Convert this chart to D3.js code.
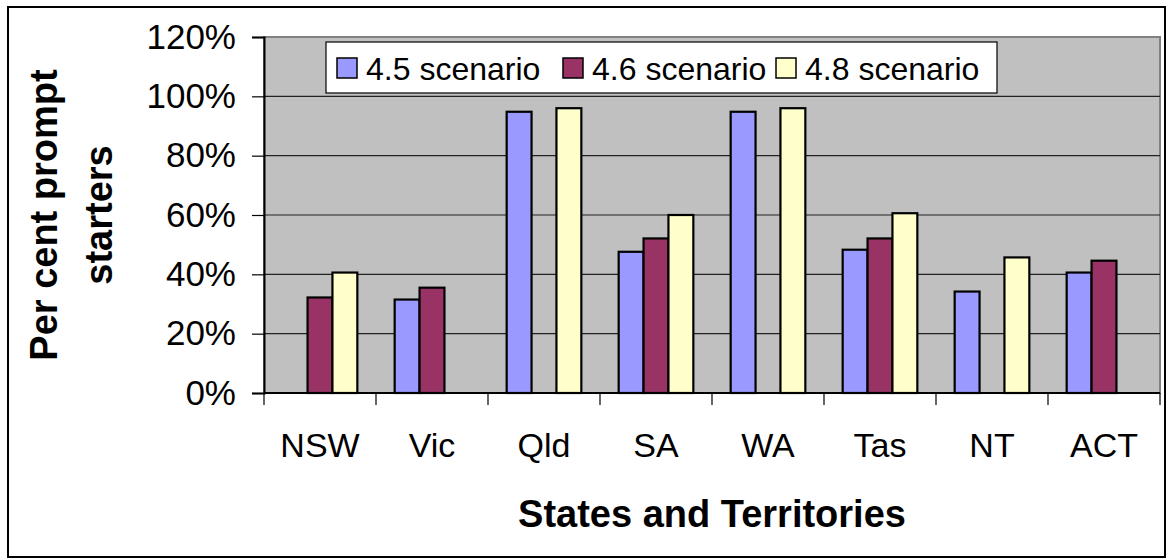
<!DOCTYPE html>
<html>
<head>
<meta charset="utf-8">
<script src="https://cdn.jsdelivr.net/npm/d3@7"></script>
<style>
  html, body { margin: 0; padding: 0; background: #fff; }
  svg { display: block; font-family: Arial, "Liberation Sans", sans-serif; }
</style>
</head>
<body>
<div id="chart"></div>
<script>
const categories = ['NSW', 'Vic', 'Qld', 'SA', 'WA', 'Tas', 'NT', 'ACT'];
const seriesNames = ['4.5 scenario', '4.6 scenario', '4.8 scenario'];
const seriesColors = ['#9999ff', '#993366', '#ffffcc'];
// null = no bar drawn for that state
const scenario45 = [null, 0.315, 0.948, 0.476, 0.948, 0.483, 0.342, 0.406];
const scenario46 = [0.322, 0.355, null, 0.521, null, 0.521, null, 0.446];
const scenario48 = [0.406, null, 0.960, 0.600, 0.960, 0.606, 0.457, null];
const yTicks = [0, 0.2, 0.4, 0.6, 0.8, 1.0, 1.2];

const WIDTH = 1171;
const HEIGHT = 559;
const plot = { left: 264, right: 1160, top: 37, bottom: 393 };

const svg = d3.select('#chart')
  .append('svg')
  .attr('width', WIDTH)
  .attr('height', HEIGHT);

// outer chart frame
svg.append('rect')
  .attr('x', 8).attr('y', 7)
  .attr('width', 1157).attr('height', 550)
  .attr('fill', '#fff')
  .attr('stroke', '#000')
  .attr('stroke-width', 2);

const x = d3.scaleBand().domain(categories).range([plot.left, plot.right]).padding(0);
const xInner = d3.scaleBand().domain(seriesNames).range([0, x.bandwidth()])
  .paddingInner(0).paddingOuter(0.75);
const y = d3.scaleLinear().domain([0, 1.2]).range([plot.bottom, plot.top]);

// plot area
svg.append('rect')
  .attr('x', plot.left).attr('y', plot.top)
  .attr('width', plot.right - plot.left).attr('height', plot.bottom - plot.top)
  .attr('fill', '#c0c0c0')
  .attr('stroke', '#808080')
  .attr('stroke-width', 2);

// gridlines
svg.append('g')
  .selectAll('line')
  .data(yTicks.filter(d => d > 0 && d < 1.2))
  .enter()
  .append('line')
  .attr('x1', plot.left).attr('x2', plot.right)
  .attr('y1', d => y(d)).attr('y2', d => y(d))
  .attr('stroke', '#222')
  .attr('stroke-width', 1.2);

// bars
const table = categories.map((c, i) => ({
  cat: c,
  vals: [scenario45[i], scenario46[i], scenario48[i]],
}));
const groups = svg.append('g')
  .selectAll('g')
  .data(table)
  .enter()
  .append('g')
  .attr('transform', d => `translate(${x(d.cat)},0)`);
groups.selectAll('rect')
  .data(d => d.vals.map((v, k) => ({ v, k })).filter(e => e.v != null))
  .enter()
  .append('rect')
  .attr('x', d => xInner(seriesNames[d.k]))
  .attr('width', xInner.bandwidth())
  .attr('y', d => y(d.v))
  .attr('height', d => y(0) - y(d.v))
  .attr('fill', d => seriesColors[d.k])
  .attr('stroke', '#000')
  .attr('stroke-width', 2.2);

// y axis
const yAxis = svg.append('g')
  .attr('transform', `translate(${plot.left},0)`)
  .call(d3.axisLeft(y).tickValues(yTicks).tickSize(12).tickPadding(16)
    .tickFormat(d => `${Math.round(d * 100)}%`));
yAxis.select('.domain').attr('stroke', '#000').attr('stroke-width', 2);
yAxis.selectAll('.tick line').attr('stroke', '#000').attr('stroke-width', 1.2);
yAxis.selectAll('.tick text')
  .attr('font-size', 35).attr('fill', '#000')
  .attr('font-family', 'Arial, "Liberation Sans", sans-serif');

// x axis: ticks at band boundaries, labels centred in bands
const xAxisG = svg.append('g').attr('transform', `translate(0,${plot.bottom})`);
xAxisG.append('line')
  .attr('x1', plot.left).attr('x2', plot.right)
  .attr('y1', 0).attr('y2', 0)
  .attr('stroke', '#000').attr('stroke-width', 2);
xAxisG.selectAll('.sep')
  .data(categories.map(c => x(c)).concat([plot.right]))
  .enter()
  .append('line')
  .attr('x1', d => d).attr('x2', d => d)
  .attr('y1', 0).attr('y2', 12)
  .attr('stroke', '#000').attr('stroke-width', 1.2);
xAxisG.selectAll('.lbl')
  .data(categories)
  .enter()
  .append('text')
  .attr('x', d => x(d) + x.bandwidth() / 2)
  .attr('y', 64)
  .attr('text-anchor', 'middle')
  .attr('font-size', 34)
  .text(d => d);

// axis titles
svg.append('text')
  .attr('x', (plot.left + plot.right) / 2)
  .attr('y', 527)
  .attr('text-anchor', 'middle')
  .attr('font-size', 38)
  .attr('font-weight', 'bold')
  .text('States and Territories');

const yTitle = svg.append('text')
  .attr('transform', `translate(0,${(plot.top + plot.bottom) / 2}) rotate(-90)`)
  .attr('text-anchor', 'middle')
  .attr('font-size', 38)
  .attr('font-weight', 'bold');
yTitle.append('tspan').attr('x', 0).attr('y', 57).text('Per cent prompt');
yTitle.append('tspan').attr('x', 0).attr('y', 112).text('starters');

// legend
const legendX = [337, 563, 776];
const legend = svg.append('g');
legend.append('rect')
  .attr('x', 326).attr('y', 42)
  .attr('width', 671).attr('height', 51)
  .attr('fill', '#fff')
  .attr('stroke', '#000')
  .attr('stroke-width', 1.2);
const item = legend.selectAll('.item')
  .data(seriesNames)
  .enter()
  .append('g')
  .attr('transform', (d, i) => `translate(${legendX[i]},58)`);
item.append('rect')
  .attr('width', 20).attr('height', 20)
  .attr('fill', (d, i) => seriesColors[i])
  .attr('stroke', '#000')
  .attr('stroke-width', 1.5);
item.append('text')
  .attr('x', 29).attr('y', 22)
  .attr('font-size', 32)
  .text(d => d);
</script>
</body>
</html>
